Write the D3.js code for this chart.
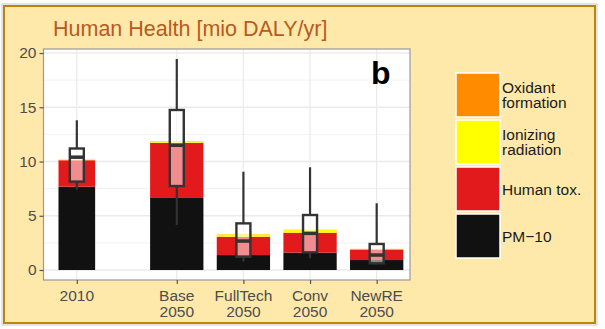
<!DOCTYPE html>
<html><head><meta charset="utf-8">
<script src="https://cdn.jsdelivr.net/npm/d3@7"></script>
<style>html,body{margin:0;padding:0;background:#fff;}svg{display:block;font-family:"Liberation Sans",Arial,sans-serif;}</style>
</head><body>
<svg id="c" width="605" height="329"></svg>
<script>
// ---- data ----
const categories = ["2010", "Base\n2050", "FullTech\n2050", "Conv\n2050", "NewRE\n2050"];
const pm10      = [7.68, 6.70, 1.38, 1.60, 0.92];
const humanTox  = [2.44, 5.03, 1.69, 1.84, 0.98];
const ionizing  = [0.04, 0.08, 0.22, 0.25, 0.04];
const oxidant   = [0.02, 0.03, 0.02, 0.02, 0.01];
const boxLow    = [7.40, 4.15, 0.77, 1.08, 0.50];
const boxQ1     = [8.15, 7.74, 1.23, 1.63, 0.62];
const boxMedian = [10.40, 11.50, 2.67, 3.38, 1.38];
const boxQ3     = [11.20, 14.75, 4.30, 5.07, 2.40];
const boxHigh   = [13.80, 19.45, 9.06, 9.47, 6.15];
const seriesNames = ["Oxidant\nformation", "Ionizing\nradiation", "Human tox.", "PM\u221210"];
const seriesColors = ["#ff8c00", "#ffff00", "#e31a1c", "#111111"];
const yTicks = [0, 5, 10, 15, 20];
const yMinor = [2.5, 7.5, 12.5, 17.5];
const title = "Human Health [mio DALY/yr]";
const panelTag = "b";

const svg = d3.select("#c");
// outer frame
svg.append("rect").attr("x",2).attr("y",4).attr("width",595).attr("height",321)
  .attr("fill","none").attr("stroke","#c8c8c8").attr("stroke-width",1);
svg.append("rect").attr("x",4).attr("y",6).attr("width",591).attr("height",317)
  .attr("fill","#ffe9aa").attr("stroke","#b8860b").attr("stroke-width",2);

svg.append("text").attr("x",53).attr("y",35.5).attr("font-size",21.5)
  .attr("fill","#b85a1e").text(title);

const P = {l:43.5, r:410, t:49, b:280};
const slot = categories.map((c,i)=> i + (i>0 ? 0.5 : 0));
const x = d3.scaleLinear().domain([-0.5, 5.0]).range([P.l, P.r]);
const y = d3.scaleLinear().domain([-0.92, 20.37]).range([P.b, P.t]);

svg.append("rect").attr("x",P.l).attr("y",P.t).attr("width",P.r-P.l).attr("height",P.b-P.t).attr("fill","#fff");
const g = svg.append("g");
// grid
g.selectAll(".ymin").data(yMinor).join("line").attr("x1",P.l).attr("x2",P.r)
  .attr("y1",d=>y(d)).attr("y2",d=>y(d)).attr("stroke","#f2f2f2").attr("stroke-width",1);
g.selectAll(".ymaj").data(yTicks).join("line").attr("x1",P.l).attr("x2",P.r)
  .attr("y1",d=>y(d)).attr("y2",d=>y(d)).attr("stroke","#ebebeb").attr("stroke-width",1.3);
g.selectAll(".xmaj").data(slot).join("line").attr("y1",P.t).attr("y2",P.b)
  .attr("x1",d=>x(d)).attr("x2",d=>x(d)).attr("stroke","#ebebeb").attr("stroke-width",1.3);

// stacked bars
const stacks = [pm10, humanTox, ionizing, oxidant];
const stackColors = ["#111111", "#e31a1c", "#ffff00", "#ff8c00"];
categories.forEach((c,i)=>{
  const w = i===0 ? 0.55 : 0.8;
  let base = 0;
  stacks.forEach((s,k)=>{
    const v = s[i];
    g.append("rect").attr("x",x(slot[i]-w/2)).attr("width",x(slot[i]+w/2)-x(slot[i]-w/2))
      .attr("y",y(base+v)).attr("height",y(base)-y(base+v)).attr("fill",stackColors[k]);
    base += v;
  });
});
// boxplots
categories.forEach((c,i)=>{
  const cx = x(slot[i]); const bw = 14;
  g.append("line").attr("x1",cx).attr("x2",cx).attr("y1",y(boxHigh[i])).attr("y2",y(boxQ3[i]))
    .attr("stroke","#333").attr("stroke-width",2.2);
  g.append("line").attr("x1",cx).attr("x2",cx).attr("y1",y(boxQ1[i])).attr("y2",y(boxLow[i]))
    .attr("stroke","#333").attr("stroke-width",2.2);
  g.append("rect").attr("x",cx-bw/2).attr("width",bw).attr("y",y(boxQ3[i])).attr("height",y(boxQ1[i])-y(boxQ3[i]))
    .attr("fill","rgba(255,255,255,0.5)").attr("stroke","#333").attr("stroke-width",2.4);
  g.append("line").attr("x1",cx-bw/2).attr("x2",cx+bw/2).attr("y1",y(boxMedian[i])).attr("y2",y(boxMedian[i]))
    .attr("stroke","#333").attr("stroke-width",3.5);
});
svg.append("rect").attr("x",P.l).attr("y",P.t).attr("width",P.r-P.l).attr("height",P.b-P.t)
  .attr("fill","none").attr("stroke","#999").attr("stroke-width",1.2);

svg.append("text").attr("x",371).attr("y",84).attr("font-size",32).attr("font-weight","bold")
  .attr("fill","#000").text(panelTag);

// axes
const ya = svg.append("g").attr("transform",`translate(${P.l},0)`)
  .call(d3.axisLeft(y).tickValues(yTicks).tickSize(4).tickPadding(3));
ya.select(".domain").remove();
ya.selectAll("line").attr("stroke","#555").attr("stroke-width",1.2);
ya.selectAll("text").attr("font-size",15.5).attr("fill","#4d4d4d").attr("font-family","Liberation Sans, Arial, sans-serif");

const xa = svg.append("g").attr("transform",`translate(0,${P.b})`)
  .call(d3.axisBottom(x).tickValues(slot).tickSize(4).tickFormat(""));
xa.select(".domain").remove();
xa.selectAll("line").attr("stroke","#555").attr("stroke-width",1.2);
categories.forEach((c,i)=>{
  const lines = c.split("\n");
  const t = svg.append("text").attr("text-anchor","middle").attr("font-size",15.5).attr("fill","#4d4d4d");
  lines.forEach((ln,j)=> t.append("tspan").attr("x",x(slot[i])).attr("y",300.5+j*16).text(ln));
});

// legend
seriesNames.forEach((n,i)=>{
  const ky = 73 + i*47;
  svg.append("rect").attr("x",456).attr("y",ky).attr("width",44).attr("height",44)
    .attr("fill",seriesColors[i]).attr("stroke","#fff").attr("stroke-width",1.5);
  const lines = n.split("\n");
  const cy = ky + 22;
  const t = svg.append("text").attr("font-size",15.5).attr("fill","#1a1a1a");
  lines.forEach((ln,j)=> t.append("tspan").attr("x",502)
    .attr("y", cy + 5.5 + (j - (lines.length-1)/2)*15.5).text(ln));
});
</script>
</body></html>
